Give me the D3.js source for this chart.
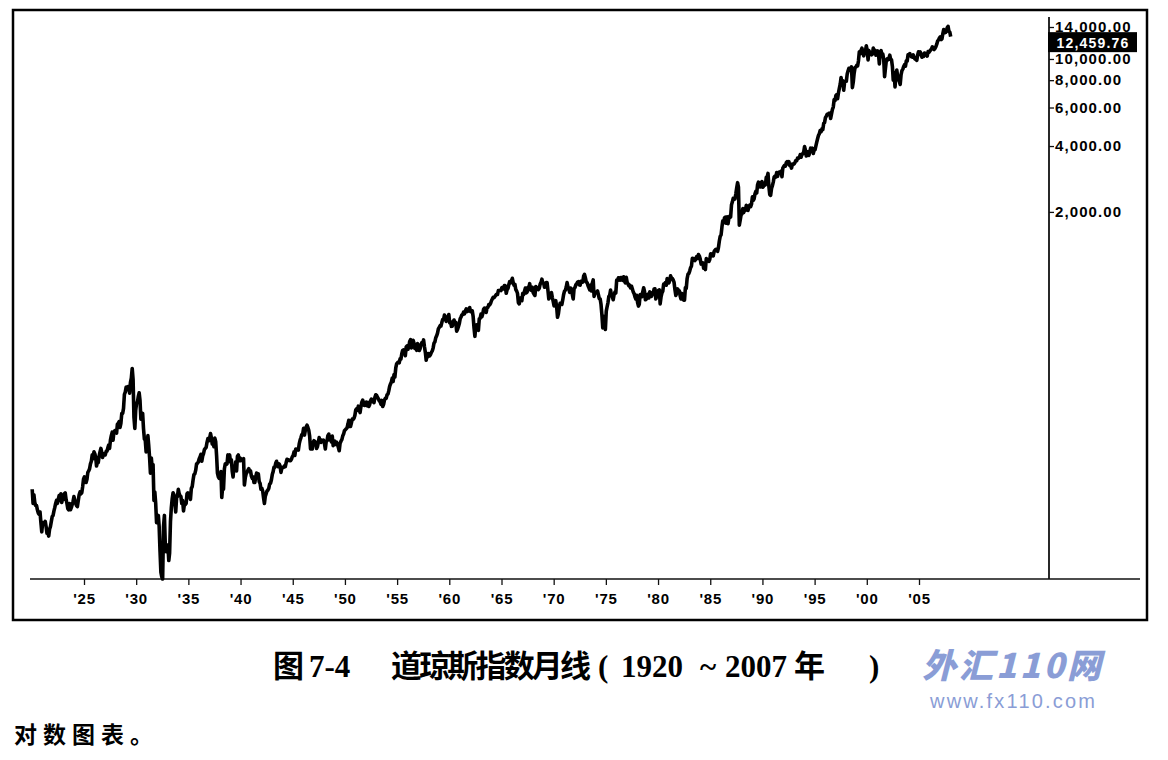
<!DOCTYPE html>
<html>
<head>
<meta charset="utf-8">
<script src="https://cdn.jsdelivr.net/npm/d3@7"></script>
<style>
  body { margin: 0; background: #fff; }
  svg { display: block; }
</style>
</head>
<body>
<div id="chart"></div>
<script>
// monthly values, one row per year, Jan..Dec
var dow1920s = [
  108, 93, 102, 94, 91, 91, 87, 84, 83, 85, 76, 69,
  76, 75, 75, 77, 73, 68, 69, 66, 71, 73, 77, 81,
  82, 86, 89, 93, 96, 93, 97, 101, 96, 103, 94, 99,
  97, 103, 104, 97, 93, 88, 87, 93, 87, 89, 92, 95,
  100, 96, 93, 91, 90, 96, 102, 105, 103, 104, 111, 120,
  123, 122, 116, 120, 129, 131, 134, 141, 145, 155, 149, 160,
  157, 151, 138, 143, 143, 153, 160, 166, 159, 151, 157, 157,
  155, 161, 161, 167, 172, 166, 181, 190, 197, 181, 198, 200,
  199, 195, 214, 216, 220, 207, 216, 240, 240, 253, 293, 300,
  317, 317, 308, 319, 297, 333, 348, 385, 343, 230, 205, 248
];
var dow1930s = [
  267, 271, 286, 298, 275, 226, 233, 240, 204, 183, 181, 160,
  168, 190, 172, 151, 128, 150, 136, 140, 96, 105, 93, 76,
  76, 82, 73, 56, 45, 43, 42, 73, 82, 61, 56, 60,
  60, 51, 55, 77, 89, 98, 104, 102, 94, 85, 99, 100,
  108, 103, 101, 100, 93, 96, 86, 92, 92, 93, 103, 104,
  101, 101, 97, 109, 111, 119, 126, 127, 132, 141, 142, 144,
  149, 152, 156, 145, 153, 157, 164, 166, 168, 177, 184, 180,
  185, 194, 186, 174, 175, 169, 185, 178, 154, 128, 123, 121,
  121, 130, 99, 111, 108, 134, 141, 140, 141, 155, 149, 155,
  144, 147, 131, 123, 138, 131, 144, 131, 153, 155, 146, 150
];
var dow1940s = [
  146, 148, 148, 149, 113, 122, 127, 129, 132, 134, 131, 131,
  124, 121, 123, 116, 116, 123, 128, 127, 127, 117, 115, 108,
  109, 106, 99, 93, 100, 103, 106, 107, 109, 114, 115, 119,
  126, 130, 136, 136, 142, 145, 139, 137, 141, 138, 129, 135,
  136, 136, 138, 137, 143, 148, 146, 147, 146, 146, 148, 152,
  154, 160, 154, 165, 163, 165, 163, 174, 181, 186, 192, 193,
  205, 191, 200, 208, 212, 207, 201, 189, 165, 169, 165, 177,
  180, 178, 177, 166, 169, 177, 186, 179, 177, 181, 179, 181,
  175, 165, 178, 180, 190, 193, 182, 182, 178, 189, 171, 177,
  179, 173, 177, 174, 168, 162, 175, 179, 182, 189, 193, 200
];
var dow1950s = [
  202, 204, 206, 214, 223, 209, 209, 217, 226, 225, 228, 235,
  249, 252, 248, 259, 250, 242, 258, 270, 276, 262, 261, 269,
  270, 260, 269, 258, 263, 274, 279, 275, 271, 269, 284, 292,
  290, 284, 280, 274, 272, 264, 275, 258, 264, 276, 281, 281,
  292, 294, 304, 319, 327, 334, 348, 336, 361, 352, 387, 404,
  409, 412, 409, 426, 425, 451, 466, 468, 466, 440, 483, 488,
  471, 484, 511, 521, 478, 492, 518, 502, 475, 480, 466, 500,
  480, 465, 474, 495, 505, 503, 520, 484, 456, 420, 450, 436,
  450, 440, 446, 456, 463, 478, 503, 509, 532, 543, 558, 584,
  594, 604, 602, 624, 644, 644, 675, 664, 632, 647, 659, 679
];
var dow1960s = [
  623, 630, 600, 601, 626, 641, 617, 626, 570, 580, 597, 616,
  649, 662, 676, 679, 697, 684, 705, 720, 701, 704, 722, 731,
  700, 708, 707, 665, 590, 540, 598, 609, 579, 575, 649, 652,
  683, 663, 683, 718, 727, 707, 695, 730, 733, 755, 751, 763,
  785, 800, 813, 811, 821, 832, 841, 839, 875, 873, 876, 874,
  903, 904, 889, 922, 918, 850, 882, 893, 931, 961, 947, 969,
  995, 951, 924, 933, 884, 870, 847, 770, 760, 807, 791, 786,
  850, 839, 865, 897, 853, 860, 904, 901, 940, 880, 876, 905,
  856, 841, 830, 912, 899, 898, 883, 896, 936, 952, 985, 944,
  946, 905, 936, 950, 950, 873, 800, 837, 813, 856, 812, 780
];
var dow1970s = [
  744, 778, 786, 736, 660, 684, 734, 765, 761, 756, 794, 839,
  869, 878, 904, 950, 908, 891, 858, 898, 887, 839, 800, 890,
  902, 928, 940, 954, 961, 929, 925, 964, 953, 956, 1018, 1036,
  999, 955, 951, 921, 901, 880, 926, 870, 947, 978, 822, 851,
  856, 860, 870, 837, 802, 802, 757, 679, 590, 666, 619, 580,
  704, 739, 768, 821, 832, 879, 832, 820, 794, 836, 860, 852,
  975, 973, 999, 997, 975, 1003, 985, 974, 1010, 965, 947, 1005,
  954, 937, 919, 926, 899, 916, 891, 862, 847, 818, 800, 831,
  770, 742, 757, 837, 840, 819, 862, 900, 866, 793, 799, 805,
  839, 809, 862, 855, 822, 842, 846, 888, 890, 800, 822, 839
];
var dow1980s = [
  876, 880, 760, 817, 851, 868, 935, 933, 950, 925, 993, 964,
  947, 975, 1020, 998, 992, 977, 952, 882, 830, 853, 889, 875,
  871, 824, 800, 848, 820, 790, 790, 901, 896, 992, 1039, 1047,
  1076, 1113, 1130, 1226, 1200, 1222, 1199, 1216, 1250, 1225, 1276, 1259,
  1221, 1155, 1165, 1171, 1105, 1132, 1090, 1224, 1207, 1207, 1188, 1212,
  1287, 1284, 1267, 1258, 1315, 1336, 1348, 1334, 1320, 1375, 1472, 1547,
  1571, 1709, 1819, 1784, 1877, 1893, 1775, 1898, 1768, 1878, 1914, 1896,
  2158, 2224, 2305, 2286, 2292, 2419, 2572, 2720, 2596, 1740, 1834, 1939,
  1958, 2072, 1989, 2032, 2031, 2142, 2129, 2032, 2113, 2149, 2114, 2169,
  2342, 2259, 2293, 2419, 2480, 2440, 2661, 2737, 2693, 2600, 2706, 2753
];
var dow1990s = [
  2591, 2627, 2707, 2657, 2877, 2881, 2999, 2614, 2400, 2380, 2560, 2634,
  2736, 2882, 2914, 2888, 3028, 2907, 3025, 3044, 3017, 3069, 2895, 3169,
  3223, 3267, 3236, 3359, 3397, 3319, 3394, 3257, 3272, 3170, 3306, 3301,
  3310, 3370, 3436, 3428, 3527, 3516, 3540, 3651, 3555, 3681, 3684, 3754,
  3978, 3832, 3600, 3682, 3758, 3625, 3765, 3913, 3843, 3908, 3700, 3834,
  3844, 4011, 4158, 4321, 4465, 4556, 4709, 4650, 4789, 4756, 5075, 5117,
  5395, 5486, 5588, 5569, 5643, 5655, 5350, 5616, 5882, 6029, 6522, 6448,
  6813, 6878, 6584, 7009, 7331, 7673, 8223, 7622, 7945, 7200, 7823, 7908,
  7907, 8546, 8800, 9063, 8900, 8952, 9200, 7400, 7843, 8592, 9117, 9181,
  9359, 9307, 9786, 10789, 10560, 10971, 11200, 10829, 10337, 10730, 10878, 11497
];
var dow2000s = [
  10941, 9900, 10922, 10734, 10522, 10448, 10522, 11215, 10651, 10971, 10415, 10788,
  10887, 10495, 9500, 10735, 10912, 10502, 10523, 9950, 8300, 9075, 9852, 10022,
  9920, 10106, 10404, 9946, 9925, 9243, 8000, 8664, 7450, 8397, 8896, 8342,
  8054, 7891, 7650, 8480, 8850, 8985, 9234, 9416, 9275, 9801, 9782, 10454,
  10488, 10584, 10358, 10226, 10188, 10435, 10140, 10000, 10080, 9850, 10428, 10783,
  10490, 10766, 10504, 10193, 10467, 10275, 10641, 10482, 10569, 10300, 10806, 10718,
  10865, 10993, 11109, 11367, 11168, 11050, 11186, 11381, 11679, 12081, 12222, 12463,
  12622, 12269, 12354, 13063, 13628, 13409, 13212, 13358, 13896, 14100, 13372, 13265,
  12650
];
var firstYear = 1920;
var lastValueText = "12,459.76";
var lastValueLevel = 12000;
// the 12,000.00 label sits under the last-value box, so it is not listed
var priceTicks = [2000, 4000, 6000, 8000, 10000, 14000];
var yearTicks = [1925, 1930, 1935, 1940, 1945, 1950, 1955, 1960, 1965, 1970,
                 1975, 1980, 1985, 1990, 1995, 2000, 2005];

var captionParts = ["图", "7-4", "道琼斯指数月线", "(", "1920", "~", "2007", "年", ")"];
var noteText = "对数图表。";

var values = [].concat(dow1920s, dow1930s, dow1940s, dow1950s, dow1960s,
                       dow1970s, dow1980s, dow1990s, dow2000s);
var data = values.map(function(v, i) {
  return { date: new Date(firstYear + Math.floor(i / 12), i % 12, 15), value: v };
});

var width = 1168, height = 760;

var svg = d3.select("#chart").append("svg")
  .attr("width", width)
  .attr("height", height);

svg.append("rect").attr("width", width).attr("height", height).attr("fill", "#fff");

var x = d3.scaleTime()
  .domain([new Date(1925, 0, 1), new Date(2005, 0, 1)])
  .range([84, 919]);

var y = d3.scaleLog()
  .domain([42, 14000])
  .range([579, 27]);

// outer frame
svg.append("rect")
  .attr("x", 13).attr("y", 10)
  .attr("width", 1134).attr("height", 610)
  .attr("fill", "none")
  .attr("stroke", "#000")
  .attr("stroke-width", 2.5);

// bottom axis line (runs past the price axis)
svg.append("line")
  .attr("x1", 30).attr("x2", 1140)
  .attr("y1", 579).attr("y2", 579)
  .attr("stroke", "#111").attr("stroke-width", 1.6);

var xAxis = svg.append("g")
  .attr("transform", "translate(0,579)")
  .call(d3.axisBottom(x)
    .tickValues(yearTicks.map(function(d) { return new Date(d, 0, 1); }))
    .tickSize(6)
    .tickPadding(8)
    .tickFormat(function(d) { return "'" + d3.timeFormat("%y")(d); }));
xAxis.select(".domain").remove();
xAxis.selectAll("line").attr("stroke", "#111").attr("stroke-width", 1.3);
xAxis.selectAll("text")
  .attr("fill", "#000")
  .style("font-family", "'Liberation Sans', Arial, sans-serif")
  .style("font-weight", "bold")
  .style("font-size", "15px")
  .style("letter-spacing", "0.8px");

// price axis on the right
svg.append("line")
  .attr("x1", 1049).attr("x2", 1049)
  .attr("y1", 17).attr("y2", 579)
  .attr("stroke", "#111").attr("stroke-width", 1.8);

var yAxis = svg.append("g")
  .attr("transform", "translate(1049,0)")
  .call(d3.axisRight(y)
    .tickValues(priceTicks)
    .tickSize(5)
    .tickPadding(1)
    .tickFormat(d3.format(",.2f")));
yAxis.select(".domain").remove();
yAxis.selectAll("line").attr("stroke", "#111").attr("stroke-width", 1.3);
yAxis.selectAll("text")
  .attr("fill", "#000")
  .style("font-family", "'Liberation Sans', Arial, sans-serif")
  .style("font-weight", "bold")
  .style("font-size", "15px")
  .style("letter-spacing", "1.1px");

// the index line
var line = d3.line()
  .x(function(d) { return x(d.date); })
  .y(function(d) { return y(d.value); });

svg.append("path")
  .datum(data)
  .attr("fill", "none")
  .attr("stroke", "#000")
  .attr("stroke-width", 3.6)
  .attr("stroke-linejoin", "round")
  .attr("d", line);

// last value box
var boxY = y(lastValueLevel);
svg.append("rect")
  .attr("x", 1048).attr("y", boxY - 9.5)
  .attr("width", 89).attr("height", 20)
  .attr("fill", "#000");
svg.append("text")
  .attr("x", 1093).attr("y", boxY + 6)
  .attr("text-anchor", "middle")
  .attr("fill", "#fff")
  .style("font-family", "'Liberation Sans', Arial, sans-serif")
  .style("font-weight", "bold")
  .style("font-size", "14px")
  .style("letter-spacing", "1.2px")
  .text(lastValueText);

// caption, piece by piece as set in the book
var captionX = [273, 309, 391, 598, 621, 700, 725, 794, 869];
var caption = svg.append("text")
  .attr("y", 677)
  .style("font-family", "'Liberation Serif', 'Noto Sans CJK SC', serif")
  .style("font-weight", "bold")
  .style("font-size", "31px");
caption.selectAll("tspan")
  .data(captionParts)
  .enter().append("tspan")
  .attr("x", function(d, i) { return captionX[i]; })
  .attr("textLength", function(d, i) { return i === 2 ? 200 : null; })
  .text(function(d) { return d; });

svg.append("text")
  .attr("x", 14).attr("y", 743)
  .style("font-family", "'Noto Sans CJK SC', sans-serif")
  .style("font-weight", "bold")
  .style("font-size", "23px")
  .style("letter-spacing", "6px")
  .text(noteText);

// watermark
svg.append("text")
  .attr("x", 922).attr("y", 678)
  .attr("fill", "#8a9dd6")
  .style("font-family", "'Noto Sans CJK SC', sans-serif")
  .style("font-weight", "900")
  .style("font-style", "italic")
  .style("font-size", "34px")
  .style("letter-spacing", "3px")
  .text("外汇110网");
svg.append("text")
  .attr("x", 930).attr("y", 708)
  .attr("fill", "#8a9dd6")
  .style("font-family", "'Liberation Sans', Arial, sans-serif")
  .style("font-size", "20px")
  .style("letter-spacing", "2.2px")
  .text("www.fx110.com");
</script>
</body>
</html>
